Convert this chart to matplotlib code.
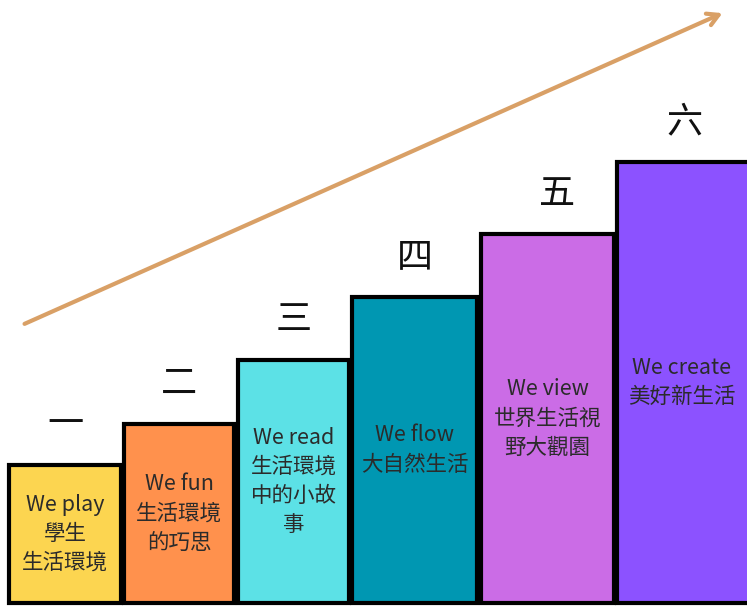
import matplotlib.pyplot as plt

# 六個年級的階梯
grades = ['一', '二', '三', '四', '五', '六']
heights = [138, 179, 243, 306, 369, 441]
labels = ['We play\n學生\n生活環境',
          'We fun\n生活環境\n的巧思',
          'We read\n生活環境\n中的小故\n事',
          'We flow\n大自然生活',
          'We view\n世界生活視\n野大觀園',
          'We create\n美好新生活']
colors = ['#FCD550', '#FF914D', '#5CE1E6', '#0097B2', '#CB6CE6', '#8C52FF']

# layout (pixel units)
left = [9, 124, 238, 352, 481, 617]
width = [112, 110, 111, 125, 133, 140]
num_dx = [0, 0, 0, 0, 10, 3]
base = 3

plt.rcParams['font.family'] = ['Noto Sans CJK TC', 'DejaVu Sans']

fig = plt.figure(figsize=(7.47, 6.06), dpi=100)
ax = fig.add_axes([0, 0, 1, 1])
ax.set_xlim(0, 747)
ax.set_ylim(0, 606)
ax.axis('off')

ax.bar(left, heights, width=width, bottom=base, align='edge',
       color=colors, edgecolor='black', linewidth=3)

for i in range(len(grades)):
    cx = left[i] + min(width[i], 747 - left[i]) / 2
    ax.text(cx + num_dx[i], base + heights[i] + 40, grades[i], ha='center',
            va='center', fontsize=26, color='#111111')
    ax.text(cx, base + heights[i] / 2, labels[i], ha='center', va='center',
            multialignment='center', fontsize=15.5, linespacing=1.42,
            color='#2b2b2b')

# 成長箭頭
ax.annotate('', xy=(725, 594), xytext=(22, 281),
            arrowprops=dict(arrowstyle='->,head_length=0.8,head_width=0.45',
                            color='#D9A066', lw=3))

fig.savefig('out.png', dpi=100)
